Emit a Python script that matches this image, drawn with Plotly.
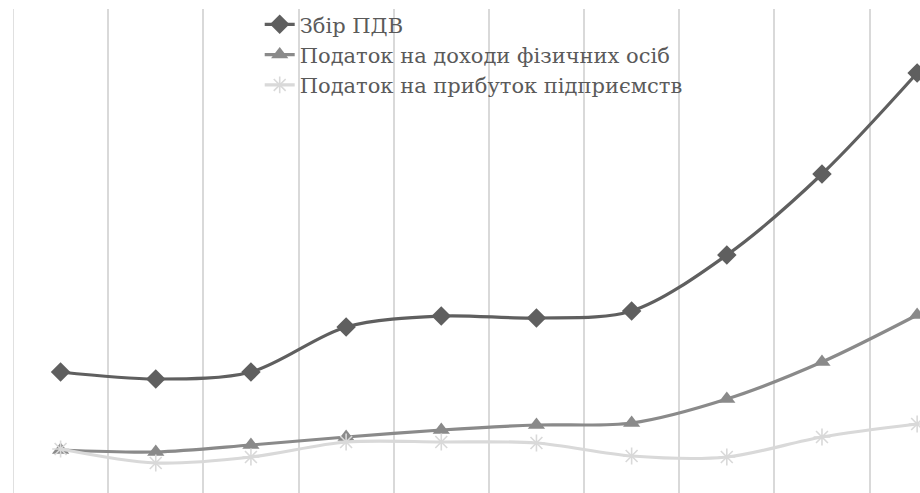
import plotly.graph_objects as go

# Series values (relative units), ten consecutive periods
periods = list(range(10))
vat = [121, 114, 121, 166, 177, 175, 182, 238, 319, 420]
pit = [43, 41, 48, 56, 63, 68, 70, 94, 131, 178]
cit = [44, 30, 36, 51, 51, 50, 37, 36, 56, 69]

names = [
    "Збір ПДВ",
    "Податок на доходи фізичних осіб",
    "Податок на прибуток підприємств",
]

fig = go.Figure()

fig.add_trace(go.Scatter(
    x=periods, y=vat, name=names[0], mode="lines+markers",
    line=dict(color="#5f5f5f", width=3.2, shape="spline", smoothing=0.9),
    marker=dict(symbol="diamond", size=15, color="#5f5f5f"),
    cliponaxis=False,
))
fig.add_trace(go.Scatter(
    x=periods, y=pit, name=names[1], mode="lines+markers",
    line=dict(color="#8a8a8a", width=3.2, shape="spline", smoothing=0.9),
    marker=dict(symbol="triangle-up", size=15, color="#8a8a8a"),
    cliponaxis=False,
))
fig.add_trace(go.Scatter(
    x=periods, y=cit, name=names[2], mode="lines+markers",
    line=dict(color="#d9d9d9", width=3.2, shape="spline", smoothing=0.9),
    marker=dict(symbol="asterisk-open", size=14, color="#d9d9d9",
                line=dict(color="#d9d9d9", width=1.6)),
    cliponaxis=False,
))

# category boundary line at the left edge of the plot
fig.add_shape(type="line", xref="x", yref="paper", x0=-0.5, x1=-0.5, y0=0, y1=1,
              line=dict(color="#d9d9d9", width=1.6), layer="below")

fig.update_layout(
    width=920, height=493,
    margin=dict(l=13, r=0, t=9, b=0),
    paper_bgcolor="white", plot_bgcolor="white",
    showlegend=True,
    legend=dict(
        x=0.272, y=1.01, xanchor="left", yanchor="top",
        bgcolor="rgba(255,255,255,0)",
        font=dict(family="DejaVu Serif", size=21, color="#5a5a5a"),
        itemwidth=30, tracegroupgap=0,
    ),
)
fig.update_xaxes(
    range=[-0.5, 9.03], tickvals=[i - 0.5 for i in range(11)],
    showticklabels=False, showgrid=True, gridcolor="#d9d9d9", gridwidth=1.6,
    zeroline=False, showline=False, ticks="",
)
fig.update_yaxes(
    range=[0, 484], showticklabels=False, showgrid=False,
    zeroline=False, showline=False, ticks="",
)

fig.write_html("out.html")
